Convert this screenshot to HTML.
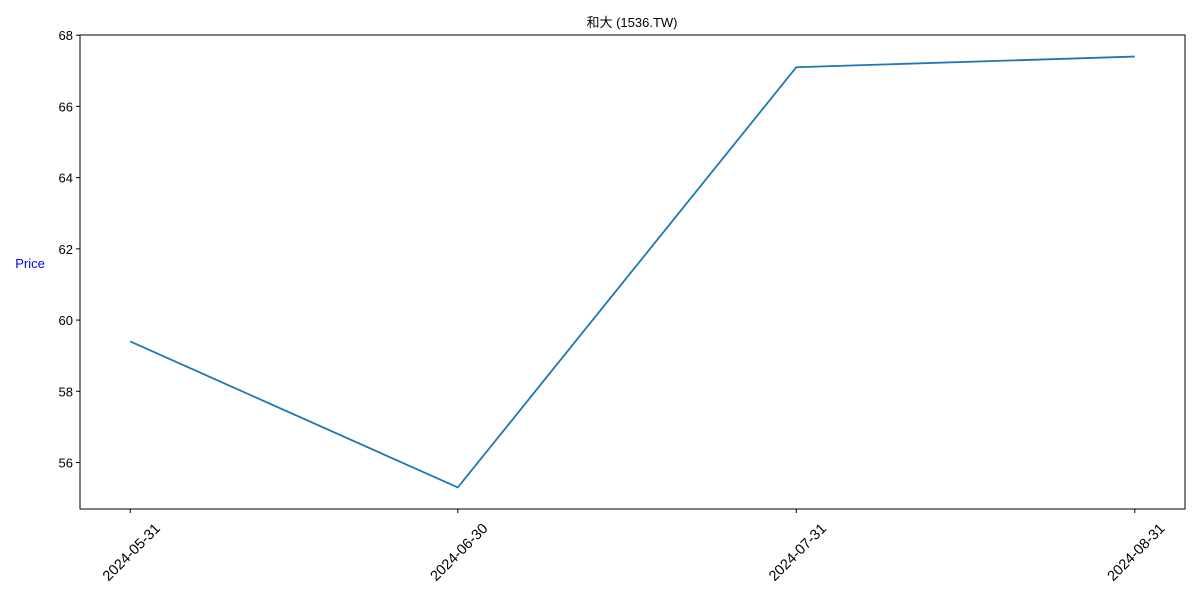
<!DOCTYPE html>
<html><head><meta charset="utf-8"><style>
body{margin:0;background:#fff;}
svg text{font-family:"Liberation Sans","Noto Sans CJK TC",sans-serif;}
</style></head><body>
<svg id="chart" width="1200" height="600"></svg>
<script>
const dates = ["2024-05-31","2024-06-30","2024-07-31","2024-08-31"];
const dayOffsets = [0,30,61,92];
const prices = [59.4,55.3,67.1,67.4];
const yTicks = [56,58,60,62,64,66,68];

const L=80,R=1185,T=35,B=509;
const xMin=-4.6,xMax=96.6,yMin=54.695,yMax=68.005;
const xs=d=>L+(d-xMin)/(xMax-xMin)*(R-L);
const ys=v=>B-(v-yMin)/(yMax-yMin)*(B-T);
const svg=document.getElementById('chart');
const NS='http://www.w3.org/2000/svg';
function mk(tag,attrs,parent){const e=document.createElementNS(NS,tag);for(const k in attrs)e.setAttribute(k,attrs[k]);(parent||svg).appendChild(e);return e;}

const title=mk('text',{x:632,y:27,'text-anchor':'middle','font-size':13,fill:'#000'});


title.textContent='和大 (1536.TW)';

const yl=mk('text',{x:30,y:268,'text-anchor':'middle','font-size':13,fill:'#0000ff'});


yl.textContent='Price';

yTicks.forEach(v=>{
  const y=ys(v);
  const t=mk('line',{x1:L-4,x2:L,y1:y,y2:y,stroke:'#000','stroke-width':1});
  
  
  const lb=mk('text',{x:L-7,y:y+5,'text-anchor':'end','font-size':13,fill:'#000'});
  
  
  lb.textContent=v;
});
dates.forEach((d,i)=>{
  const x=xs(dayOffsets[i]);
  const t=mk('line',{x1:x,x2:x,y1:B,y2:B+4,stroke:'#000','stroke-width':1});
  
  
  const cy=B+43;
  const lb=mk('text',{x:x+1,y:cy+5,'text-anchor':'middle','font-size':14.5,fill:'#000',transform:`rotate(-45 ${x+1} ${cy})`});
  
  
  lb.textContent=d;
});

const pts=prices.map((p,i)=>xs(dayOffsets[i])+','+ys(p)).join(' ');
const line=mk('polyline',{points:pts,fill:'none',stroke:'#1f77b4','stroke-width':1.8});



const frame=mk('rect',{x:L,y:T,width:R-L,height:B-T,fill:'none',stroke:'#000','stroke-width':1});


</script>
</body></html>
